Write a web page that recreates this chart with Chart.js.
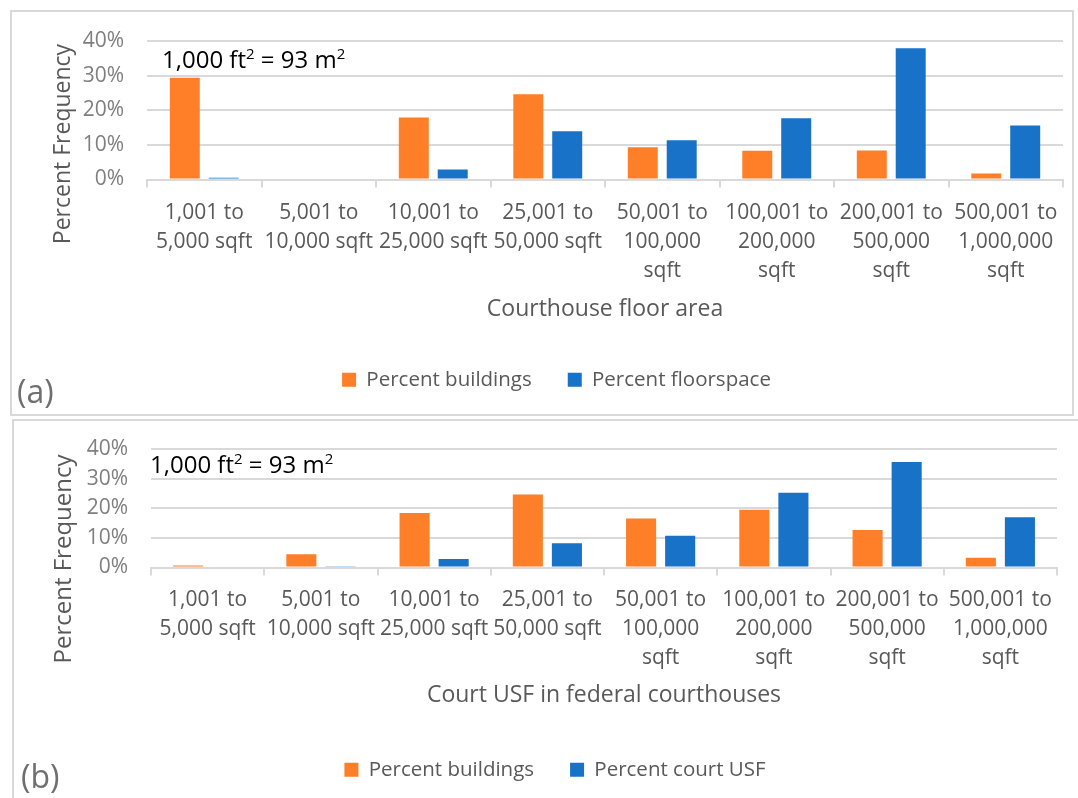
<!DOCTYPE html>
<html>
<head>
<meta charset="utf-8">
<script src="https://cdn.jsdelivr.net/npm/chart.js@4/dist/chart.umd.min.js"></script>
<style>
    body { margin: 0; background: #fff; font-family: "Open Sans", sans-serif; }
    .box { position: absolute; border: 2px solid #d9d9d9; box-sizing: border-box; }
    canvas { position: absolute; }
    .note { position: absolute; font-size: 24px; color: #000; white-space: nowrap; line-height: 1; }
    .note sup { font-size: 15px; vertical-align: 9px; line-height: 0; }
    .tag { position: absolute; font-size: 32px; color: #6f6f6f; line-height: 1; }
</style>
</head>
<body>
<div class="box" style="left:10px;top:10px;width:1064px;height:406px"></div>
<div class="box" style="left:12px;top:419px;width:1070px;height:390px"></div>
<canvas id="chartA" width="1060" height="405" style="left:12px;top:10px"></canvas>
<canvas id="chartB" width="1064" height="378" style="left:14px;top:420px"></canvas>
<div class="note" style="left:162px;top:47px">1,000 ft<sup>2</sup> = 93 m<sup>2</sup></div>
<div class="note" style="left:150px;top:452px">1,000 ft<sup>2</sup> = 93 m<sup>2</sup></div>
<div class="tag" style="left:17px;top:375px">(a)</div>
<div class="tag" style="left:21px;top:760px">(b)</div>
<script>
const sizeBins = [
    ["1,001 to", "5,000 sqft"],
    ["5,001 to", "10,000 sqft"],
    ["10,001 to", "25,000 sqft"],
    ["25,001 to", "50,000 sqft"],
    ["50,001 to", "100,000", "sqft"],
    ["100,001 to", "200,000", "sqft"],
    ["200,001 to", "500,000", "sqft"],
    ["500,001 to", "1,000,000", "sqft"]
];
const yTicks = [0, 10, 20, 30, 40];

// (a) courthouse floor area
const buildingsA = [29.4, 0, 17.9, 24.6, 9.3, 8.3, 8.4, 1.7];
const floorspaceA = [0.5, 0, 2.9, 13.9, 11.3, 17.7, 37.9, 15.6];

// (b) court USF
const buildingsB = [0.7, 4.5, 18.4, 24.6, 16.5, 19.5, 12.7, 3.3];
const courtUsfB = [0, 0.4, 2.9, 8.2, 10.7, 25.2, 35.6, 17.0];

const ORANGE = '#fe7f27';
const BLUE = '#1772c8';
const GRID = '#d9d9d9';
const FONT = '"Open Sans", sans-serif';

// y axis title is not centred on the plot in the original, so draw it where it sits
const yTitlePlugin = {
    id: 'yTitle',
    afterDraw(chart, args, opts) {
        const { ctx } = chart;
        ctx.save();
        ctx.translate(opts.x, opts.y);
        ctx.rotate(-Math.PI / 2);
        ctx.font = `${opts.size}px ${FONT}`;
        ctx.fillStyle = '#595959';
        ctx.textAlign = 'center';
        ctx.textBaseline = 'middle';
        ctx.fillText(opts.text, 0, 0);
        ctx.restore();
    }
};

function makeChart(id, cfg) {
    return new Chart(document.getElementById(id), {
        type: 'bar',
        data: {
            labels: sizeBins,
            datasets: [{
                label: 'Percent buildings',
                data: cfg.orange,
                backgroundColor: ORANGE,
                categoryPercentage: cfg.catPct,
                barPercentage: 0.77
            }, {
                label: cfg.blueLabel,
                data: cfg.blue,
                backgroundColor: BLUE,
                categoryPercentage: cfg.catPct,
                barPercentage: 0.77
            }]
        },
        options: {
            responsive: false,
            animation: false,
            layout: { padding: cfg.pad },
            scales: {
                y: {
                    min: 0,
                    max: 40,
                    afterBuildTicks: (axis) => { axis.ticks = yTicks.map(v => ({ value: v })); },
                    afterFit: (axis) => { axis.width = cfg.yWidth; },
                    ticks: {
                        autoSkip: false,
                        callback: v => v + '%',
                        color: '#7f7f7f',
                        font: { family: FONT, size: 21 },
                        padding: 15
                    },
                    // invisible tick marks push the labels off the plot without extra top padding
                    grid: { color: GRID, lineWidth: 2, drawTicks: true, tickLength: 8, tickColor: 'rgba(0,0,0,0)' },
                    border: { display: false }
                },
                x: {
                    afterFit: (axis) => { axis.height = cfg.xHeight; },
                    grid: { offset: true, drawOnChartArea: false, color: GRID, lineWidth: 2, tickLength: 8 },
                    border: { color: GRID, width: 2 },
                    ticks: {
                        maxRotation: 0,
                        autoSkip: false,
                        color: '#595959',
                        font: { family: FONT, size: 21, lineHeight: 1.38 },
                        padding: cfg.xTickPad
                    },
                    title: {
                        display: true,
                        text: cfg.xTitle,
                        color: '#595959',
                        font: { family: FONT, size: 23 },
                        padding: { top: 0, bottom: cfg.titlePadB }
                    }
                }
            },
            plugins: {
                tooltip: { enabled: false },
                legend: {
                    position: 'bottom',
                    labels: {
                        boxWidth: 14,
                        boxHeight: 14,
                        padding: 36,
                        color: '#595959',
                        font: { family: FONT, size: 20.5 }
                    }
                },
                yTitle: cfg.yTitle
            }
        },
        plugins: [yTitlePlugin]
    });
}

makeChart('chartA', {
    orange: buildingsA,
    blue: floorspaceA,
    blueLabel: 'Percent floorspace',
    xTitle: 'Courthouse floor area',
    catPct: 0.68,
    pad: { left: 38, right: 9, top: 31, bottom: 15 },
    yWidth: 97,
    xHeight: 154,
    xTickPad: 11,
    titlePadB: 10,
    yTitle: { text: 'Percent Frequency', x: 51, y: 134, size: 23 }
});

makeChart('chartB', {
    orange: buildingsB,
    blue: courtUsfB,
    blueLabel: 'Percent court USF',
    xTitle: 'Court USF in federal courthouses',
    catPct: 0.69,
    pad: { left: 39, right: 21, top: 29, bottom: 8 },
    yWidth: 98,
    xHeight: 156,
    xTickPad: 10,
    titlePadB: 14,
    yTitle: { text: 'Percent Frequency', x: 50, y: 139, size: 24 }
});
</script>
</body>
</html>
